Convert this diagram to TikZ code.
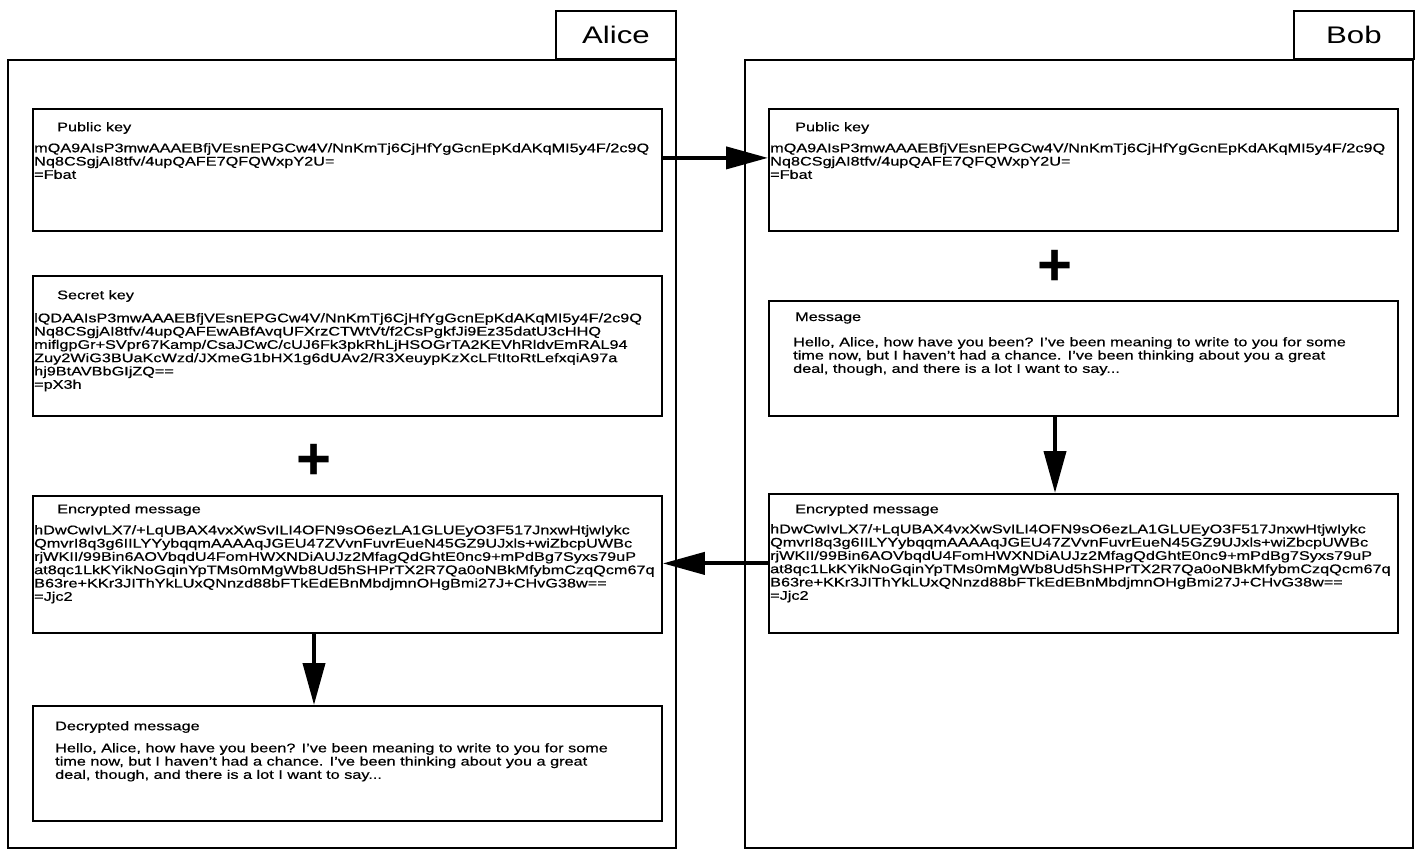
\documentclass[tikz,border=0pt]{standalone}
\usepackage{fontspec}
\setmainfont{Liberation Sans}[FakeStretch=1.3, FakeBold=0.6]
\newfontfamily\tabfont{Liberation Sans}[FakeStretch=1.3]
\newfontfamily\plusfont{Liberation Sans}
\usetikzlibrary{arrows.meta, positioning, calc}

\begin{document}
\begin{tikzpicture}[x=1pt, y=-1pt,
    panel/.style={line width=1.8pt},
    tab/.style={draw, line width=1.8pt, anchor=south west, minimum width=120pt,
                minimum height=48pt, inner sep=0pt, font=\tabfont\fontsize{24}{24}\selectfont},
    box/.style={draw, line width=1.8pt, anchor=north west, minimum width=629pt, inner sep=0pt},
    head/.style={anchor=west, inner sep=0pt, font=\fontsize{12.5}{13.5}\selectfont},
    body/.style={anchor=north west, inner sep=0pt, align=left,
                 font=\fontsize{12.5}{13.3}\selectfont},
    plus/.style={inner sep=0pt, font=\plusfont\fontsize{60}{60}\selectfont\bfseries},
    arr/.style={-{Triangle[length=42pt, width=22pt]}, line width=4pt}
  ]
    \useasboundingbox (0,0) rectangle (1420,850);

    % Alice
    \draw[panel] (8,60) rectangle (676,848);
    \node[tab] (alice) at (555,60) {Alice};

    \node[box, minimum height=122pt] (pubA) at (32,108) {};
    \node[head] (pubAh) at ([shift={(25,20)}]pubA.north west) {Public key};
    \node[body] (pubAb) at ([shift={(2,35)}]pubA.north west)
      {mQA9AIsP3mwAAAEBfjVEsnEPGCw4V/NnKmTj6CjHfYgGcnEpKdAKqMI5y4F/2c9Q\\
       Nq8CSgjAI8tfv/4upQAFE7QFQWxpY2U=\\
       =Fbat};

    \node[box, minimum height=140pt] (secA) at (32,275) {};
    \node[head] (secAh) at ([shift={(25,21)}]secA.north west) {Secret key};
    \node[body] (secAb) at ([shift={(2,38)}]secA.north west)
      {lQDAAIsP3mwAAAEBfjVEsnEPGCw4V/NnKmTj6CjHfYgGcnEpKdAKqMI5y4F/2c9Q\\
       Nq8CSgjAI8tfv/4upQAFEwABfAvqUFXrzCTWtVt/f2CsPgkfJi9Ez35datU3cHHQ\\
       miflgpGr+SVpr67Kamp/CsaJCwC/cUJ6Fk3pkRhLjHSOGrTA2KEVhRldvEmRAL94\\
       Zuy2WiG3BUaKcWzd/JXmeG1bHX1g6dUAv2/R3XeuypKzXcLFtItoRtLefxqiA97a\\
       hj9BtAVBbGIjZQ==\\
       =pX3h};

    \node[plus] (plusA) at (314,462) {+};

    \node[box, minimum height=137pt] (encA) at (32,495) {};
    \node[head] (encAh) at ([shift={(25,15)}]encA.north west) {Encrypted message};
    \node[body] (encAb) at ([shift={(2,30)}]encA.north west)
      {hDwCwIvLX7/+LqUBAX4vxXwSvILI4OFN9sO6ezLA1GLUEyO3F517JnxwHtjwIykc\\
       QmvrI8q3g6IILYYybqqmAAAAqJGEU47ZVvnFuvrEueN45GZ9UJxls+wiZbcpUWBc\\
       rjWKII/99Bin6AOVbqdU4FomHWXNDiAUJz2MfagQdGhtE0nc9+mPdBg7Syxs79uP\\
       at8qc1LkKYikNoGqinYpTMs0mMgWb8Ud5hSHPrTX2R7Qa0oNBkMfybmCzqQcm67q\\
       B63re+KKr3JIThYkLUxQNnzd88bFTkEdEBnMbdjmnOHgBmi27J+CHvG38w==\\
       =Jjc2};

    \node[box, minimum height=115pt] (decA) at (32,705) {};
    \node[head] (decAh) at ([shift={(23,22)}]decA.north west) {Decrypted message};
    \node[body] (decAb) at ([shift={(23,38)}]decA.north west)
      {Hello, Alice, how have you been?\enspace I've been meaning to write to you for some\\
       time now, but I haven't had a chance.\enspace I've been thinking about you a great\\
       deal, though, and there is a lot I want to say...};

    % Bob
    \draw[panel] (745,60) rectangle (1413,848);
    \node[tab] (bob) at (1293,60) {Bob};

    \node[box, minimum height=122pt] (pubB) at (768,108) {};
    \node[head] (pubBh) at ([shift={(27,20)}]pubB.north west) {Public key};
    \node[body] (pubBb) at ([shift={(2,35)}]pubB.north west)
      {mQA9AIsP3mwAAAEBfjVEsnEPGCw4V/NnKmTj6CjHfYgGcnEpKdAKqMI5y4F/2c9Q\\
       Nq8CSgjAI8tfv/4upQAFE7QFQWxpY2U=\\
       =Fbat};

    \node[plus] (plusB) at (1055,268) {+};

    \node[box, minimum height=115pt] (msgB) at (768,300) {};
    \node[head] (msgBh) at ([shift={(27,18)}]msgB.north west) {Message};
    \node[body] (msgBb) at ([shift={(25,37)}]msgB.north west)
      {Hello, Alice, how have you been?\enspace I've been meaning to write to you for some\\
       time now, but I haven't had a chance.\enspace I've been thinking about you a great\\
       deal, though, and there is a lot I want to say...};

    \node[box, minimum height=139pt] (encB) at (768,493) {};
    \node[head] (encBh) at ([shift={(27,17)}]encB.north west) {Encrypted message};
    \node[body] (encBb) at ([shift={(2,31)}]encB.north west)
      {hDwCwIvLX7/+LqUBAX4vxXwSvILI4OFN9sO6ezLA1GLUEyO3F517JnxwHtjwIykc\\
       QmvrI8q3g6IILYYybqqmAAAAqJGEU47ZVvnFuvrEueN45GZ9UJxls+wiZbcpUWBc\\
       rjWKII/99Bin6AOVbqdU4FomHWXNDiAUJz2MfagQdGhtE0nc9+mPdBg7Syxs79uP\\
       at8qc1LkKYikNoGqinYpTMs0mMgWb8Ud5hSHPrTX2R7Qa0oNBkMfybmCzqQcm67q\\
       B63re+KKr3JIThYkLUxQNnzd88bFTkEdEBnMbdjmnOHgBmi27J+CHvG38w==\\
       =Jjc2};

    % key and message flow
    \draw[arr] ([yshift=12pt]pubA.east) -- ([yshift=12pt]pubB.west);
    \draw[arr] (msgB.south -| plusB) -- (encB.north -| plusB);
    \draw[arr] (encB.west) -- (encB.west -| encA.east);
    \draw[arr] (encA.south -| plusA) -- (decA.north -| plusA);
\end{tikzpicture}
\end{document}
